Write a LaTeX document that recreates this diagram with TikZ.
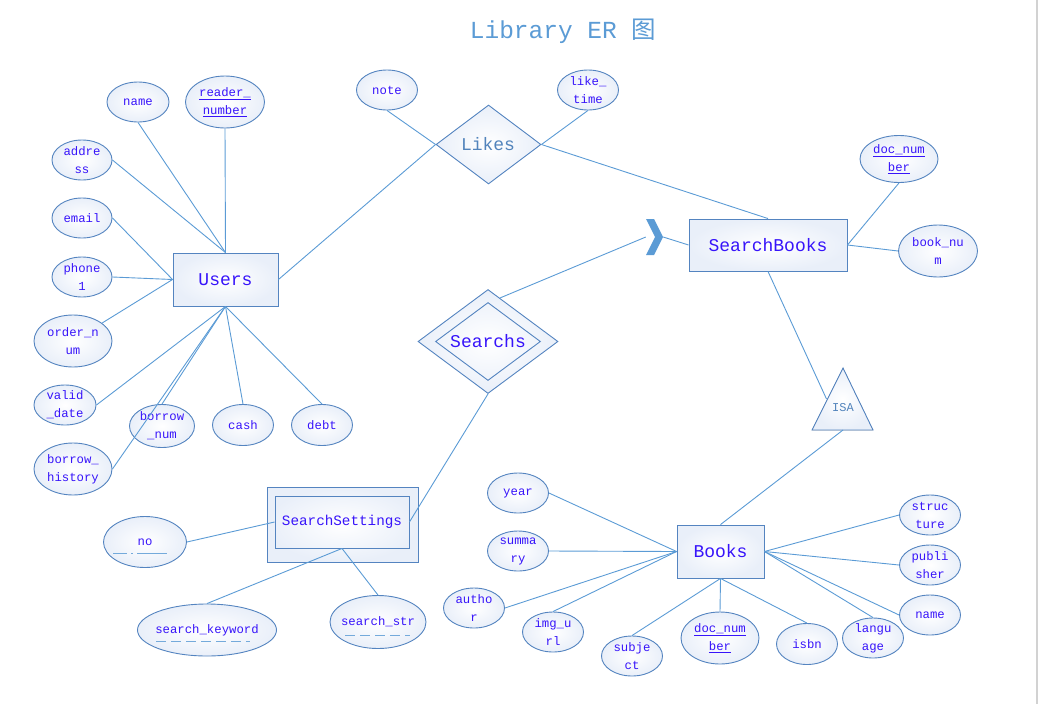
\documentclass[tikz,border=0pt]{standalone}
\usepackage{fontspec}
\setmainfont{Liberation Mono}
\newfontfamily\cjk{Noto Sans CJK SC}
\usetikzlibrary{shapes.geometric,calc}
\definecolor{ln}{RGB}{91,155,213}
\definecolor{bd}{RGB}{84,132,192}
\definecolor{tx}{RGB}{55,20,250}
\definecolor{ttl}{RGB}{91,155,213}
\definecolor{lk}{RGB}{82,132,188}
\definecolor{sh}{RGB}{233,239,249}
\newcommand\att[5]{\node[attr,minimum width=#3,minimum height=#4,label={[atx]center:{#5}}] (#1) at #2 {};}
\begin{document}
\begin{tikzpicture}[x=1pt,y=-1pt,
 attr/.style={ellipse,draw=bd,line width=0.9pt,inner sep=0pt,inner color=white,outer color=sh},
 atx/.style={text=tx,align=center,font=\fontsize{12.3}{18}\selectfont,inner sep=0pt},
 ent/.style={rectangle,draw=bd,line width=0.9pt,inner color=white,outer color=sh,text=tx,font=\fontsize{18}{20}\selectfont,inner sep=0pt},
 rel/.style={diamond,draw=bd,line width=0.9pt,inner sep=0pt,inner color=white,outer color=sh},
 conn/.style={draw=ln,line width=0.9pt},
 kline/.style={draw=ln!85,line width=0.9pt,dash pattern=on 10pt off 5pt},
]
\useasboundingbox (0,0) rectangle (1040,704);
\draw[gray!35,line width=2pt] (1037,0) -- (1037,704);
% title
\node[text=ttl,font=\fontsize{24.5}{28}\selectfont] (title) at (563,31) {Library ER {\cjk 图}};
% Users
\node[ent,minimum width=105,minimum height=53] (users) at (225.5,279.5) {Users};
\att{uname}{(138,102)}{62}{40}{name}
\att{rnum}{(225,102)}{79}{52}{\underline{reader\_}\\\underline{number}}
\att{addr}{(82,160)}{60}{40}{addre\\ss}
\att{email}{(82,218)}{60}{40}{email}
\att{phone}{(82,277)}{60}{40}{phone\\1}
\att{order}{(73,341)}{78}{52}{order\_n\\um}
\att{valid}{(65,405)}{62}{40}{valid\\\_date}
\att{bhist}{(73,469)}{78}{52}{borrow\_\\history}
\att{bnum}{(162,426)}{65}{43}{borrow\\\_num}
\att{cash}{(243,425)}{61}{41}{cash}
\att{debt}{(322,425)}{61}{41}{debt}
% Likes
\node[rel,minimum width=105,minimum height=79] (likes) at (488.5,144.5) {};
\node[text=lk,font=\fontsize{18}{20}\selectfont] (likestx) at (488,144) {Likes};
\att{note}{(387,90)}{61}{40}{note}
\att{ltime}{(588,90)}{61}{40}{like\_\\time}
% SearchBooks
\node[ent,minimum width=158,minimum height=52] (sb) at (768,245) {SearchBooks};
\att{sbdoc}{(899,159)}{78}{47}{\underline{doc\_num}\\\underline{ber}}
\att{bknum}{(938,251)}{79}{52}{book\_nu\\m}
% chevron
\node[minimum width=17,minimum height=36,inner sep=0pt] (chev) at (654.5,237) {};
\fill[ln] (646,219) -- (654,219) -- (663,237) -- (654,255) -- (646,255) -- (655,237) -- cycle;
% Searchs
\node[rel,minimum width=140,minimum height=104] (srch) at (488,341.5) {};
\node[diamond,draw=bd,line width=0.9pt,inner sep=0pt,minimum width=105,minimum height=78] (srchin) at (488,341.5) {};
\node[text=tx,font=\fontsize{18}{20}\selectfont] (srchtx) at (488,341) {Searchs};
\coordinate (srchtop) at ($(srch.north)!0.17!(srch.east)$);
% SearchSettings
\node[ent,minimum width=151,minimum height=75] (ssout) at (342.5,524.5) {};
\node[rectangle,draw=bd,line width=0.9pt,inner sep=0pt,minimum width=134,minimum height=52,text=tx,font=\fontsize{14.3}{16}\selectfont] (ssin) at (342,522) {SearchSettings};
\att{no}{(145,542)}{83}{51}{no}
\att{skw}{(207,630)}{139}{52}{search\_keyword}
\att{sstr}{(378,622)}{96}{53}{search\_str}
\draw[draw=ln!85,line width=0.9pt,dash pattern=on 14pt off 4pt on 2pt off 4pt on 30pt] ($(no.center)+(-32,11)$) -- ($(no.center)+(26,11)$);
\draw[kline] ($(skw.center)+(-51,11)$) -- ($(skw.center)+(43,11)$);
\draw[kline] ($(sstr.center)+(-33,13)$) -- ($(sstr.center)+(32,13)$);
% ISA
\fill[inner color=white,outer color=sh] (843,368) -- (873,430) -- (812,430) -- cycle;
\draw[bd,line width=0.9pt] (843,368) -- (873,430) -- (812,430) -- cycle;
\node[text=lk,font=\fontsize{12}{14}\selectfont] (isa) at (843,408) {ISA};
\coordinate (isaL) at (826.5,399);
\coordinate (isaB) at (843,430);
% Books
\node[ent,minimum width=87,minimum height=53] (books) at (720.5,551.5) {Books};
\att{year}{(518,493)}{61}{40}{year}
\att{summ}{(518,551)}{61}{40}{summa\\ry}
\att{author}{(474,608)}{61}{40}{autho\\r}
\att{img}{(553,632)}{61}{40}{img\_u\\rl}
\att{subj}{(632,656)}{61}{40}{subje\\ct}
\att{bdoc}{(720,638)}{78}{52}{\underline{doc\_num}\\\underline{ber}}
\att{isbn}{(807,644)}{61}{41}{isbn}
\att{lang}{(873,638)}{61}{40}{langu\\age}
\att{bname}{(930,615)}{61}{40}{name}
\att{publ}{(930,565)}{61}{40}{publi\\sher}
\att{struc}{(930,515)}{61}{40}{struc\\ture}
% connectors
\draw[conn] (uname.south) -- (users.north);
\draw[conn] (rnum.south) -- (users.north);
\draw[conn] (addr.east) -- (users.north);
\draw[conn] (email.east) -- (users.west);
\draw[conn] (phone.east) -- (users.west);
\draw[conn] (order) -- (users.west);
\draw[conn] (valid.east) -- (users.south);
\draw[conn] (bnum.north) -- (users.south);
\draw[conn] (bhist.east) -- (users.south);
\draw[conn] (cash.north) -- (users.south);
\draw[conn] (debt.north) -- (users.south);
\draw[conn] (users.east) -- (likes.west);
\draw[conn] (note.south) -- (likes.west);
\draw[conn] (ltime.south) -- (likes.east);
\draw[conn] (likes.east) -- (sb.north);
\draw[conn] (sbdoc.south) -- (sb.east);
\draw[conn] (bknum.west) -- (sb.east);
\draw[conn] (srchtop) -- (chev.west);
\draw[conn] (chev.east) -- (sb.west);
\draw[conn] (srch.south) -- (ssin.east);
\draw[conn] (no.east) -- (ssin.west);
\draw[conn] (skw.north) -- (ssin.south);
\draw[conn] (sstr.north) -- (ssin.south);
\draw[conn] (sb.south) -- (isaL);
\draw[conn] (isaB) -- (books.north);
\draw[conn] (year.east) -- (books.west);
\draw[conn] (summ.east) -- (books.west);
\draw[conn] (author.east) -- (books.west);
\draw[conn] (img.north) -- (books.west);
\draw[conn] (subj.north) -- (books.south);
\draw[conn] (bdoc.north) -- (books.south);
\draw[conn] (isbn.north) -- (books.south);
\draw[conn] (lang.north) -- (books.east);
\draw[conn] (bname.west) -- (books.east);
\draw[conn] (publ.west) -- (books.east);
\draw[conn] (struc.west) -- (books.east);
\end{tikzpicture}
\end{document}
